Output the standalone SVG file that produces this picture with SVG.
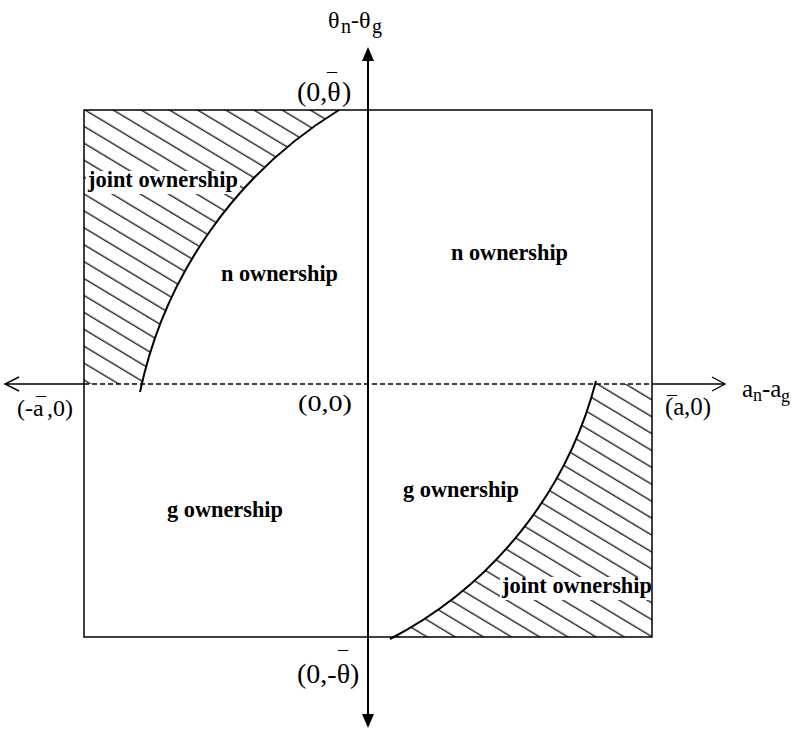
<svg xmlns="http://www.w3.org/2000/svg" width="792" height="732" viewBox="0 0 792 732">
<style>
.lbl{font-family:"Liberation Serif","Times New Roman",serif;fill:#000}
.b{font-weight:bold;font-size:23px}
.ln{fill:none;stroke:#000}
.bar{font-size:20px}
</style>
<defs>
<pattern id="hatch" patternUnits="userSpaceOnUse" width="20" height="14.5" patternTransform="rotate(31)">
<line x1="-1" y1="7" x2="21" y2="7" stroke="#000" stroke-width="1.2"/>
</pattern>
<clipPath id="clipTL"><path d="M84,110 H339 A436,436 0 0 0 142,384 H84 Z"/></clipPath>
<clipPath id="clipBR"><path d="M595,384 H652 V637 H394 A405,405 0 0 0 595,384 Z"/></clipPath>
</defs>
<rect width="792" height="732" fill="#fff"/>

<g id="region-joint-tl">
<rect x="84" y="110" width="260" height="274" fill="url(#hatch)" clip-path="url(#clipTL)"/>
<rect x="86" y="171" width="154" height="23" fill="#fff"/>
<text class="lbl b" x="88" y="187" textLength="150" lengthAdjust="spacingAndGlyphs">joint ownership</text>
</g>
<g id="region-joint-br">
<rect x="390" y="384" width="262" height="253" fill="url(#hatch)" clip-path="url(#clipBR)"/>
<rect x="500" y="577" width="152" height="23" fill="#fff"/>
<text class="lbl b" x="502" y="593" textLength="150" lengthAdjust="spacingAndGlyphs">joint ownership</text>
</g>

<g id="box">
<rect x="84" y="110" width="568" height="527" class="ln" stroke-width="1.5"/>
</g>

<g id="connectors">
<line x1="5" y1="384" x2="84" y2="384" class="ln" stroke-width="1.3"/>
<line x1="84" y1="384" x2="652" y2="384" class="ln" stroke-width="1.3" stroke-dasharray="5,3"/>
<line x1="652" y1="384" x2="725" y2="384" class="ln" stroke-width="1.3"/>
<polyline points="19,377 5,384 19,391" class="ln" stroke-width="1.4"/>
<polyline points="712,377 725,384 712,391" class="ln" stroke-width="1.4"/>
<line x1="368" y1="58" x2="368" y2="718" class="ln" stroke-width="2"/>
<polygon points="368,47 362,61 374,61" fill="#000"/>
<polygon points="368,728 362,714 374,714" fill="#000"/>
<path d="M339,110 A436,436 0 0 0 140,392" class="ln" stroke-width="2"/>
<path d="M596,381 A405,405 0 0 1 390,639" class="ln" stroke-width="2"/>
</g>

<g id="region-n-left"><text class="lbl b" x="221" y="281" textLength="117" lengthAdjust="spacingAndGlyphs">n ownership</text></g>
<g id="region-n-right"><text class="lbl b" x="451" y="260" textLength="117" lengthAdjust="spacingAndGlyphs">n ownership</text></g>
<g id="region-g-left"><text class="lbl b" x="167" y="517" textLength="116" lengthAdjust="spacingAndGlyphs">g ownership</text></g>
<g id="region-g-right"><text class="lbl b" x="403" y="497" textLength="116" lengthAdjust="spacingAndGlyphs">g ownership</text></g>

<g id="axis-label-y">
<text class="lbl" font-size="24" x="328" y="28">θ<tspan x="341" y="33" font-size="20">n</tspan><tspan x="351" y="28" font-size="24">-θ</tspan><tspan x="372" y="33" font-size="20">g</tspan></text>
</g>
<g id="axis-label-x">
<text class="lbl" font-size="25" x="742" y="397">a<tspan x="753" y="401" font-size="18">n</tspan><tspan x="762" y="397" font-size="25">-a</tspan><tspan x="781" y="402" font-size="18">g</tspan></text>
</g>

<g id="point-top"><text class="lbl" font-size="28" x="297" y="101">(0,θ<tspan class="bar" x="327" y="88">¯</tspan><tspan x="342" y="101">)</tspan></text></g>
<g id="point-bottom"><text class="lbl" font-size="28" x="297" y="683">(0,-θ<tspan class="bar" x="338" y="666">¯</tspan><tspan x="350" y="683">)</tspan></text></g>
<g id="point-left"><text class="lbl" font-size="24" x="17" y="416">(-a<tspan class="bar" x="36" y="412">¯</tspan><tspan x="47" y="416">,0)</tspan></text></g>
<g id="point-right"><text class="lbl" font-size="25" x="665" y="415">(a<tspan class="bar" x="667" y="411">¯</tspan><tspan x="684" y="415">,0)</tspan></text></g>
<g id="point-origin"><text class="lbl" font-size="23" x="298" y="411" textLength="54" lengthAdjust="spacingAndGlyphs">(0,0)</text></g>
</svg>
